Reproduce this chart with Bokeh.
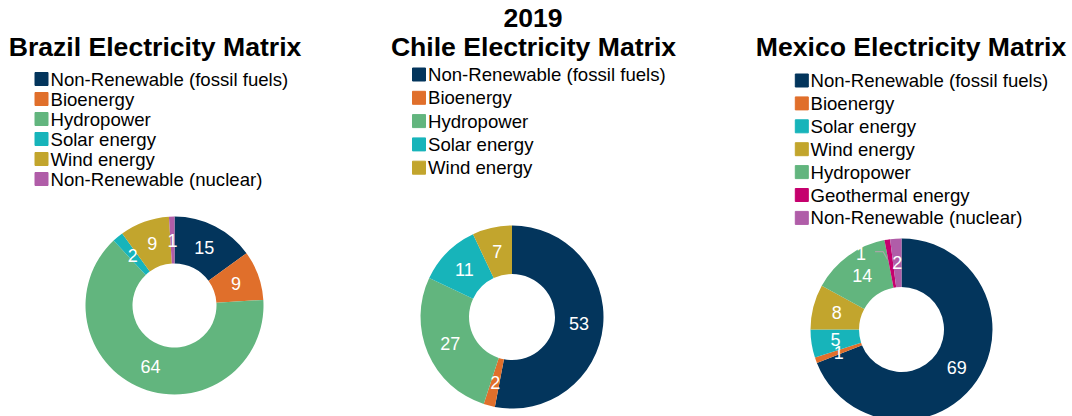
import numpy as np
from bokeh.plotting import figure
from bokeh.models import Range1d, ColumnDataSource
from bokeh.embed import file_html
from bokeh.resources import INLINE
from bokeh.core.properties import value

# ---------------- data ----------------
main_title = "2019"

brazil_title = "Brazil Electricity Matrix"
brazil_sources = ["Non-Renewable (fossil fuels)", "Bioenergy", "Hydropower",
                  "Solar energy", "Wind energy", "Non-Renewable (nuclear)"]
brazil_values = [15, 9, 64, 2, 9, 1]

chile_title = "Chile Electricity Matrix"
chile_sources = ["Non-Renewable (fossil fuels)", "Bioenergy", "Hydropower",
                 "Solar energy", "Wind energy"]
chile_values = [53, 2, 27, 11, 7]

mexico_title = "Mexico Electricity Matrix"
mexico_sources = ["Non-Renewable (fossil fuels)", "Bioenergy", "Solar energy",
                  "Wind energy", "Hydropower", "Geothermal energy",
                  "Non-Renewable (nuclear)"]
mexico_values = [69, 1, 5, 8, 14, 1, 2]

COLORS = {
    "Non-Renewable (fossil fuels)": "#03355C",
    "Bioenergy": "#E06F2B",
    "Hydropower": "#62B57E",
    "Solar energy": "#17B4BA",
    "Wind energy": "#C2A52D",
    "Non-Renewable (nuclear)": "#B05DA8",
    "Geothermal energy": "#C5006D",
}

FONT = value("Liberation Sans")
W, H = 1072, 416


def X(px):
    return px


def Y(py):
    return H - py


p = figure(width=W, height=H, x_range=Range1d(0, W), y_range=Range1d(0, H),
           x_axis_type=None, y_axis_type=None, output_backend="svg",
           toolbar_location=None, min_border=0)
p.grid.visible = False
p.outline_line_color = None
p.background_fill_color = "white"
p.border_fill_color = "white"


def title(text, cx, middle):
    p.text(x=[X(cx)], y=[Y(middle)], text=[text], text_font=FONT,
           text_font_size="26.6px", text_font_style="bold", text_color="black",
           text_align="center", text_baseline="middle")


def legend(sources, sq_x, text_x, row0, step):
    n = len(sources)
    ys = [Y(row0 + step * i) for i in range(n)]
    src = ColumnDataSource(dict(
        sx=[X(sq_x)] * n, tx=[X(text_x)] * n, y=ys, label=sources,
        color=[COLORS[s] for s in sources]))
    p.scatter(x="sx", y="y", marker="square", size=13, fill_color="color",
              line_color="color", source=src)
    p.text(x="tx", y="y", text="label", text_font=FONT, text_font_size="18.6px",
           text_color="black", text_align="left", text_baseline="middle",
           source=src)


def donut(cx, cy, r_in, r_out, sources, values, offsets=None):
    offsets = offsets or {}
    vals = np.array(values, dtype=float)
    frac = vals / vals.sum()
    ends = np.cumsum(frac)
    starts = ends - frac
    start_a = np.pi / 2 - 2 * np.pi * starts
    end_a = np.pi / 2 - 2 * np.pi * ends
    mid_a = np.pi / 2 - np.pi * (starts + ends)
    r_mid = (r_in + r_out) / 2
    lx = X(cx) + r_mid * np.cos(mid_a)
    ly = Y(cy) + r_mid * np.sin(mid_a)
    src = ColumnDataSource(dict(
        start=start_a, end=end_a, color=[COLORS[s] for s in sources]))
    p.annular_wedge(x=X(cx), y=Y(cy), inner_radius=r_in, outer_radius=r_out,
                    start_angle="start", end_angle="end", direction="clock",
                    fill_color="color", line_color=None, source=src)
    tx, ty = list(lx), list(ly)
    for i, (dx, dy) in offsets.items():
        ox, oy = tx[i], ty[i]
        tx[i] = ox + dx
        ty[i] = oy + dy
        p.line(x=[tx[i] + 14, tx[i] + 22, ox - 3.5], y=[ty[i] + 2, ty[i] + 2, oy + 4],
               line_color="#A6A6A6", line_width=1.2)
    lsrc = ColumnDataSource(dict(x=tx, y=ty, label=[str(v) for v in values]))
    p.text(x="x", y="y", text="label", text_font=FONT, text_font_size="18px",
           text_color="white", text_align="center", text_baseline="middle",
           source=lsrc)


# Brazil
title(brazil_title, 154.5, 46.8)
legend(brazil_sources, 41, 50, 78.5, 20)
donut(174, 305, 42, 89, brazil_sources, brazil_values)

# Chile
title(main_title, 532.5, 17.6)
title(chile_title, 533, 46.8)
legend(chile_sources, 418.5, 427.5, 74, 23.3)
donut(511.5, 316.5, 43, 91.5, chile_sources, chile_values)

# Mexico
title(mexico_title, 910.5, 46.8)
legend(mexico_sources, 801.3, 810, 80, 22.9)
donut(901, 329, 42.5, 91, mexico_sources, mexico_values, offsets={5: (-30, 10)})

open("out.html", "w").write(file_html(p, INLINE))
